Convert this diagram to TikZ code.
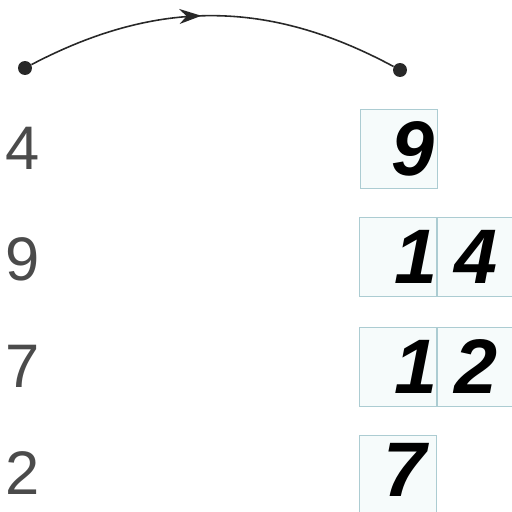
\documentclass[tikz,border=0pt]{standalone}
\usepackage{fontspec}
\setmainfont{Liberation Sans}
\usetikzlibrary{positioning, arrows.meta, decorations.markings}
\definecolor{cellline}{RGB}{172,204,210}
\definecolor{cellfill}{RGB}{246,251,251}
\definecolor{numgray}{RGB}{75,75,75}
\definecolor{dotgray}{RGB}{40,40,40}

\begin{document}
\begin{tikzpicture}[x=0.02cm, y=0.02cm, >=Stealth,
  dot/.style={circle, fill=dotgray, inner sep=0pt, minimum size=0.28cm},
  given/.style={text=numgray, inner sep=0pt, font=\fontsize{35}{35}\selectfont},
  cell/.style={draw=cellline, fill=cellfill, line width=0.6pt, inner sep=0pt,
    minimum width=1.54cm, minimum height=1.58cm},
  ans/.style={inner sep=0pt, font=\bfseries\itshape\fontsize{44}{44}\selectfont},
  midarrow/.style={postaction={decorate, decoration={markings,
    mark=at position 0.47 with {\arrow{Stealth[length=0.44cm, width=0.3cm]}}}}}]
  \useasboundingbox (0,0) rectangle (512,512);
  \clip (0,0) rectangle (512,512);
  % jump from one number to the next
  \node[dot] (d1) at (25,444) {};
  \node[dot] (d2) at (400,442) {};
  \draw[dotgray, line width=0.9pt, midarrow] (d1) to[bend left=28] (d2);
  % numbers on the left
  \node[given] (g1) at (23,364) {4};
  \node[given] (g2) at (23,253) {9};
  \node[given] (g3) at (23,146) {7};
  \node[given] (g4) at (23,39) {2};
  % answer cells
  \node[cell] (c1) at (399,363) {};
  \node[cell] (c2a) at (398,255) {};
  \node[cell] (c2b) [right=0pt of c2a] {};
  \node[cell] (c3a) at (398,145) {};
  \node[cell] (c3b) [right=0pt of c3a] {};
  \node[cell] (c4) at (398,37) {};
  \node[ans, xshift=0.28cm] (a1) at (c1) {9};
  \node[ans, xshift=0.36cm] (a2a) at (c2a) {1};
  \node[ans] (a2b) at (c2b) {4};
  \node[ans, xshift=0.36cm] (a3a) at (c3a) {1};
  \node[ans] (a3b) at (c3b) {2};
  \node[ans, xshift=0.14cm, yshift=0.1cm] (a4) at (c4) {7};
\end{tikzpicture}
\end{document}
